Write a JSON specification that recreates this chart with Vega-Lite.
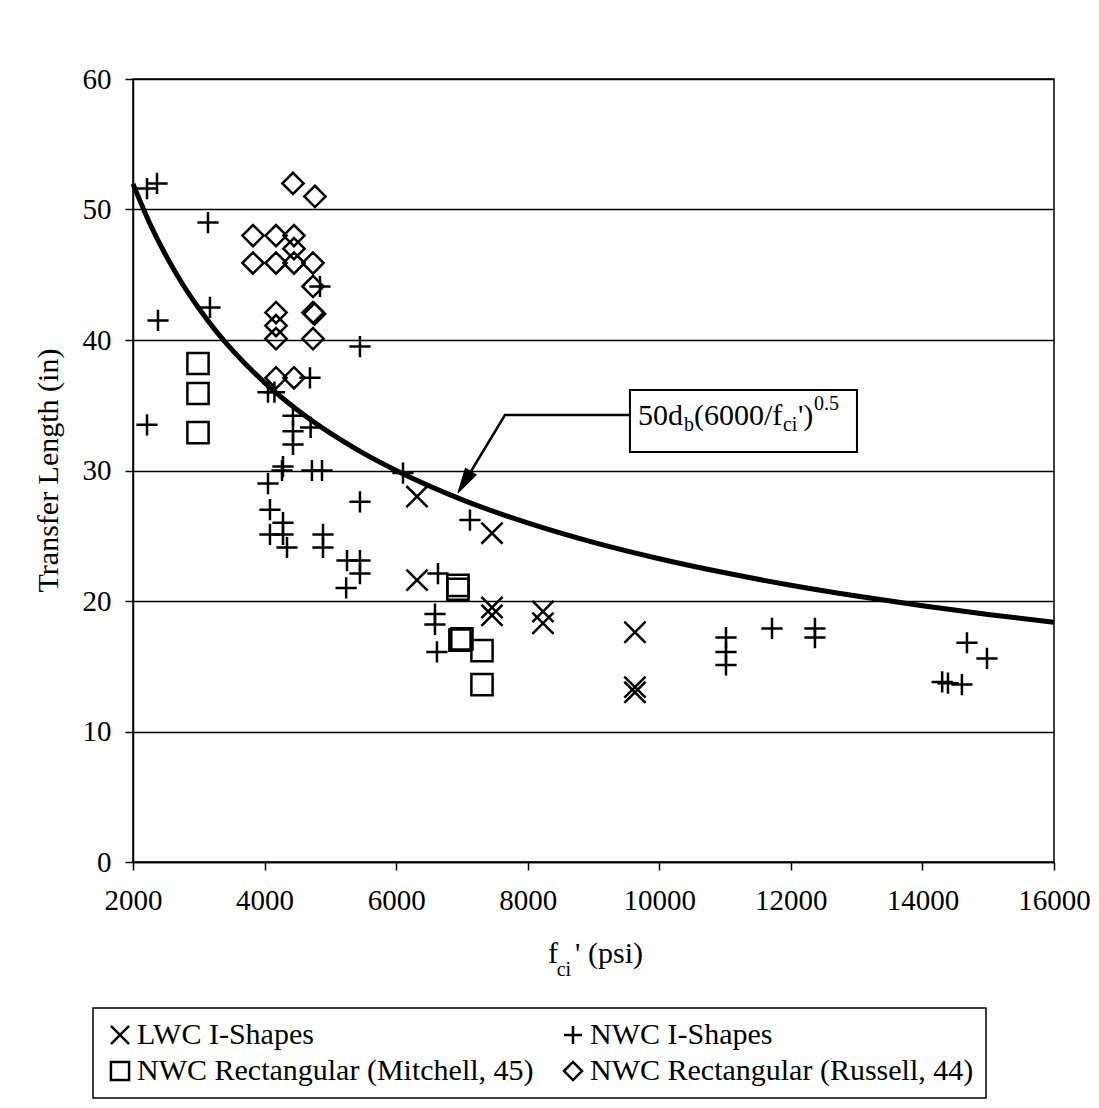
{
  "$schema": "https://vega.github.io/schema/vega-lite/v6.json",
  "width": 921,
  "height": 783,
  "autosize": {"type": "none"},
  "padding": {"left": 133, "top": 79, "right": 45, "bottom": 246},
  "background": "white",
  "config": {
    "font": "Liberation Serif",
    "view": {"stroke": "black", "strokeWidth": 1.5},
    "axis": {
      "labelFont": "Liberation Serif",
      "titleFont": "Liberation Serif",
      "labelColor": "black",
      "titleColor": "black",
      "domainColor": "black",
      "tickColor": "black",
      "domainWidth": 1.5,
      "tickWidth": 1.5,
      "tickSize": 8,
      "labelFontSize": 29,
      "titleFontSize": 30,
      "titleFontWeight": "normal"
    },
    "legend": {
      "orient": "none",
      "legendX": -40,
      "legendY": 929,
      "columns": 2,
      "strokeColor": "black",
      "strokeWidth": 1.5,
      "padding": 12,
      "labelFont": "Liberation Serif",
      "labelFontSize": 30,
      "labelColor": "black",
      "labelLimit": 600,
      "labelOffset": 2,
      "symbolSize": 330,
      "symbolStrokeWidth": 2.5,
      "symbolStrokeColor": "black",
      "symbolFillColor": "transparent",
      "columnPadding": 24,
      "rowPadding": 6
    }
  },
  "datasets": {
    "pts": [
      {"series": "LWC I-Shapes", "fci": 6317, "L": 28.0},
      {"series": "LWC I-Shapes", "fci": 7457, "L": 25.2},
      {"series": "LWC I-Shapes", "fci": 6317, "L": 21.6},
      {"series": "LWC I-Shapes", "fci": 7457, "L": 19.5},
      {"series": "LWC I-Shapes", "fci": 7457, "L": 18.9},
      {"series": "LWC I-Shapes", "fci": 8232, "L": 19.2},
      {"series": "LWC I-Shapes", "fci": 8232, "L": 18.3},
      {"series": "LWC I-Shapes", "fci": 9630, "L": 17.6},
      {"series": "LWC I-Shapes", "fci": 9630, "L": 13.4},
      {"series": "LWC I-Shapes", "fci": 9630, "L": 13.0},
      {"series": "NWC I-Shapes", "fci": 2213, "L": 51.6},
      {"series": "NWC I-Shapes", "fci": 2365, "L": 52.0},
      {"series": "NWC I-Shapes", "fci": 3140, "L": 49.0},
      {"series": "NWC I-Shapes", "fci": 3170, "L": 42.5},
      {"series": "NWC I-Shapes", "fci": 2380, "L": 41.5},
      {"series": "NWC I-Shapes", "fci": 4842, "L": 44.1},
      {"series": "NWC I-Shapes", "fci": 5450, "L": 39.5},
      {"series": "NWC I-Shapes", "fci": 4690, "L": 37.1},
      {"series": "NWC I-Shapes", "fci": 2213, "L": 33.5},
      {"series": "NWC I-Shapes", "fci": 4052, "L": 36.0},
      {"series": "NWC I-Shapes", "fci": 4150, "L": 36.0},
      {"series": "NWC I-Shapes", "fci": 4432, "L": 34.2},
      {"series": "NWC I-Shapes", "fci": 4432, "L": 33.0},
      {"series": "NWC I-Shapes", "fci": 4432, "L": 32.0},
      {"series": "NWC I-Shapes", "fci": 4700, "L": 33.3},
      {"series": "NWC I-Shapes", "fci": 4265, "L": 30.0},
      {"series": "NWC I-Shapes", "fci": 4280, "L": 30.3},
      {"series": "NWC I-Shapes", "fci": 4052, "L": 29.0},
      {"series": "NWC I-Shapes", "fci": 4720, "L": 30.0},
      {"series": "NWC I-Shapes", "fci": 4873, "L": 30.0},
      {"series": "NWC I-Shapes", "fci": 5450, "L": 27.6},
      {"series": "NWC I-Shapes", "fci": 6104, "L": 29.8},
      {"series": "NWC I-Shapes", "fci": 4082, "L": 27.0},
      {"series": "NWC I-Shapes", "fci": 4280, "L": 26.0},
      {"series": "NWC I-Shapes", "fci": 4082, "L": 25.1},
      {"series": "NWC I-Shapes", "fci": 4280, "L": 25.1},
      {"series": "NWC I-Shapes", "fci": 4341, "L": 24.1},
      {"series": "NWC I-Shapes", "fci": 4888, "L": 25.1},
      {"series": "NWC I-Shapes", "fci": 4888, "L": 24.1},
      {"series": "NWC I-Shapes", "fci": 5253, "L": 23.1},
      {"series": "NWC I-Shapes", "fci": 5450, "L": 23.1},
      {"series": "NWC I-Shapes", "fci": 5240, "L": 21.0},
      {"series": "NWC I-Shapes", "fci": 5450, "L": 22.1},
      {"series": "NWC I-Shapes", "fci": 7122, "L": 26.2},
      {"series": "NWC I-Shapes", "fci": 6636, "L": 22.1},
      {"series": "NWC I-Shapes", "fci": 6590, "L": 19.0},
      {"series": "NWC I-Shapes", "fci": 6590, "L": 18.2},
      {"series": "NWC I-Shapes", "fci": 6620, "L": 16.1},
      {"series": "NWC I-Shapes", "fci": 11713, "L": 17.9},
      {"series": "NWC I-Shapes", "fci": 12366, "L": 17.9},
      {"series": "NWC I-Shapes", "fci": 12366, "L": 17.2},
      {"series": "NWC I-Shapes", "fci": 11014, "L": 17.2},
      {"series": "NWC I-Shapes", "fci": 11014, "L": 16.1},
      {"series": "NWC I-Shapes", "fci": 11014, "L": 15.1},
      {"series": "NWC I-Shapes", "fci": 14677, "L": 16.8},
      {"series": "NWC I-Shapes", "fci": 14981, "L": 15.6},
      {"series": "NWC I-Shapes", "fci": 14388, "L": 13.7},
      {"series": "NWC I-Shapes", "fci": 14600, "L": 13.6},
      {"series": "NWC I-Shapes", "fci": 14300, "L": 13.8},
      {"series": "NWC Rectangular (Mitchell, 45)", "fci": 2988, "L": 38.2},
      {"series": "NWC Rectangular (Mitchell, 45)", "fci": 2988, "L": 35.9},
      {"series": "NWC Rectangular (Mitchell, 45)", "fci": 2988, "L": 32.9},
      {"series": "NWC Rectangular (Mitchell, 45)", "fci": 6940, "L": 21.2},
      {"series": "NWC Rectangular (Mitchell, 45)", "fci": 6940, "L": 20.9},
      {"series": "NWC Rectangular (Mitchell, 45)", "fci": 6970, "L": 17.0},
      {"series": "NWC Rectangular (Mitchell, 45)", "fci": 7000, "L": 17.1},
      {"series": "NWC Rectangular (Mitchell, 45)", "fci": 7305, "L": 16.2},
      {"series": "NWC Rectangular (Mitchell, 45)", "fci": 7305, "L": 13.6},
      {"series": "NWC Rectangular (Russell, 44)", "fci": 4432, "L": 52.0},
      {"series": "NWC Rectangular (Russell, 44)", "fci": 4766, "L": 51.0},
      {"series": "NWC Rectangular (Russell, 44)", "fci": 3824, "L": 48.0},
      {"series": "NWC Rectangular (Russell, 44)", "fci": 4174, "L": 48.0},
      {"series": "NWC Rectangular (Russell, 44)", "fci": 4447, "L": 48.0},
      {"series": "NWC Rectangular (Russell, 44)", "fci": 4447, "L": 47.0},
      {"series": "NWC Rectangular (Russell, 44)", "fci": 3824, "L": 45.9},
      {"series": "NWC Rectangular (Russell, 44)", "fci": 4174, "L": 45.9},
      {"series": "NWC Rectangular (Russell, 44)", "fci": 4447, "L": 45.9},
      {"series": "NWC Rectangular (Russell, 44)", "fci": 4736, "L": 45.9},
      {"series": "NWC Rectangular (Russell, 44)", "fci": 4736, "L": 44.1},
      {"series": "NWC Rectangular (Russell, 44)", "fci": 4736, "L": 42.1},
      {"series": "NWC Rectangular (Russell, 44)", "fci": 4760, "L": 42.0},
      {"series": "NWC Rectangular (Russell, 44)", "fci": 4174, "L": 42.1},
      {"series": "NWC Rectangular (Russell, 44)", "fci": 4174, "L": 41.1},
      {"series": "NWC Rectangular (Russell, 44)", "fci": 4174, "L": 40.1},
      {"series": "NWC Rectangular (Russell, 44)", "fci": 4736, "L": 40.1},
      {"series": "NWC Rectangular (Russell, 44)", "fci": 4174, "L": 37.1},
      {"series": "NWC Rectangular (Russell, 44)", "fci": 4447, "L": 37.1}
    ],
    "curve": [
      {"fci": 2000, "L": 51.96},
      {"fci": 2250, "L": 48.99},
      {"fci": 2500, "L": 46.48},
      {"fci": 2750, "L": 44.31},
      {"fci": 3000, "L": 42.43},
      {"fci": 3250, "L": 40.76},
      {"fci": 3500, "L": 39.28},
      {"fci": 4000, "L": 36.74},
      {"fci": 4500, "L": 34.64},
      {"fci": 5000, "L": 32.86},
      {"fci": 5500, "L": 31.33},
      {"fci": 6000, "L": 30.0},
      {"fci": 7000, "L": 27.77},
      {"fci": 8000, "L": 25.98},
      {"fci": 9000, "L": 24.49},
      {"fci": 10000, "L": 23.24},
      {"fci": 11000, "L": 22.16},
      {"fci": 12000, "L": 21.21},
      {"fci": 13000, "L": 20.38},
      {"fci": 14000, "L": 19.64},
      {"fci": 15000, "L": 18.97},
      {"fci": 16000, "L": 18.37}
    ],
    "box": [{"x1": 9554, "x2": 13005, "y1": 31.42, "y2": 36.17}],
    "arrow": [
      {"o": 1, "fci": 9585, "L": 34.25},
      {"o": 2, "fci": 7654, "L": 34.25},
      {"o": 3, "fci": 7037, "L": 29.1}
    ],
    "head": [{"fci": 7037, "L": 29.1}],
    "textMain": [
      {"t": "50d", "fci": 9676, "L": 33.49},
      {"t": "(6000/f", "fci": 10527, "L": 33.49},
      {"t": "')", "fci": 12108, "L": 33.49},
      {"t": "f", "fci": 8308, "L": -7.74},
      {"t": "' (psi)", "fci": 8720, "L": -7.74}
    ],
    "textSub": [
      {"t": "b", "fci": 10375, "L": 33.0},
      {"t": "ci", "fci": 11880, "L": 33.0},
      {"t": "0.5", "fci": 12351, "L": 34.64},
      {"t": "ci", "fci": 8440, "L": -8.74}
    ]
  },
  "layer": [
    {
      "data": {"name": "pts"},
      "mark": {"type": "point", "filled": false, "stroke": "black", "strokeWidth": 2.5, "size": 450, "opacity": 1},
      "encoding": {
        "x": {
          "field": "fci", "type": "quantitative",
          "scale": {"domain": [2000, 16000], "nice": false, "zero": false},
          "axis": {"title": null, "values": [2000, 4000, 6000, 8000, 10000, 12000, 14000, 16000], "format": "d", "grid": false, "labelPadding": 16, "labelFlush": false}
        },
        "y": {
          "field": "L", "type": "quantitative",
          "scale": {"domain": [0, 60], "nice": false},
          "axis": {"title": "Transfer Length (in)", "values": [0, 10, 20, 30, 40, 50, 60], "grid": true, "gridColor": "black", "gridWidth": 1.5, "gridOpacity": 1, "labelPadding": 14, "titleX": -85, "titleY": 391, "titleAngle": -90, "titleAlign": "center", "titleBaseline": "middle"}
        },
        "shape": {
          "field": "series", "type": "nominal",
          "scale": {
            "domain": ["LWC I-Shapes", "NWC Rectangular (Mitchell, 45)", "NWC I-Shapes", "NWC Rectangular (Russell, 44)"],
            "range": ["M-1,-1L1,1M-1,1L1,-1", "square", "M-1,0L1,0M0,-1L0,1", "diamond"]
          },
          "legend": {"title": null}
        }
      }
    },
    {
      "data": {"name": "curve"},
      "mark": {"type": "line", "stroke": "black", "strokeWidth": 5, "interpolate": "monotone"},
      "encoding": {
        "x": {"field": "fci", "type": "quantitative"},
        "y": {"field": "L", "type": "quantitative"}
      }
    },
    {
      "data": {"name": "arrow"},
      "mark": {"type": "line", "stroke": "black", "strokeWidth": 2.5},
      "encoding": {
        "x": {"field": "fci", "type": "quantitative"},
        "y": {"field": "L", "type": "quantitative"},
        "order": {"field": "o"}
      }
    },
    {
      "data": {"name": "head"},
      "mark": {"type": "point", "shape": "M0,-1L0.5,1L-0.5,1Z", "filled": true, "fill": "black", "stroke": "black", "strokeWidth": 1, "size": 625, "angle": 211, "opacity": 1},
      "encoding": {
        "x": {"field": "fci", "type": "quantitative"},
        "y": {"field": "L", "type": "quantitative"}
      }
    },
    {
      "data": {"name": "box"},
      "mark": {"type": "rect", "fill": "white", "stroke": "black", "strokeWidth": 2},
      "encoding": {
        "x": {"field": "x1", "type": "quantitative"},
        "x2": {"field": "x2"},
        "y": {"field": "y1", "type": "quantitative"},
        "y2": {"field": "y2"}
      }
    },
    {
      "data": {"name": "textMain"},
      "mark": {"type": "text", "font": "Liberation Serif", "fontSize": 30, "align": "left", "baseline": "alphabetic", "color": "black", "clip": false},
      "encoding": {
        "x": {"field": "fci", "type": "quantitative"},
        "y": {"field": "L", "type": "quantitative"},
        "text": {"field": "t"}
      }
    },
    {
      "data": {"name": "textSub"},
      "mark": {"type": "text", "font": "Liberation Serif", "fontSize": 20, "align": "left", "baseline": "alphabetic", "color": "black", "clip": false},
      "encoding": {
        "x": {"field": "fci", "type": "quantitative"},
        "y": {"field": "L", "type": "quantitative"},
        "text": {"field": "t"}
      }
    }
  ]
}
